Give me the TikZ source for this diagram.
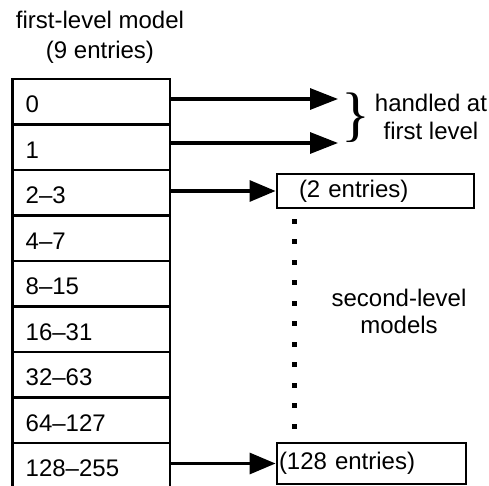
\documentclass[tikz,border=0pt]{standalone}
\usepackage{fontspec}
\setmainfont{Liberation Sans}
\newfontfamily\bracefont{Liberation Serif}
\usetikzlibrary{arrows.meta}
\begin{document}
\begin{tikzpicture}[x=1pt,y=-1pt,
  every node/.style={font=\fontsize{24}{29}\selectfont},
  cell/.style={draw, line width=2.9pt, minimum width=157.3pt, minimum height=45.5pt,
    inner xsep=13pt, inner ysep=0pt, text width=131.3pt, align=left,
    text height=22pt, text depth=0pt},
  box/.style={draw, line width=2.9pt, inner ysep=0pt, align=left},
  label/.style={align=center, inner sep=0pt},
  longarrow/.style={line width=3.2pt, -{Triangle[length=28pt,width=21pt]}},
  shortarrow/.style={line width=3.2pt, -{Triangle[length=26pt,width=21pt]}}]
  \useasboundingbox (0,0) rectangle (489,486);
  \fill[white] (0,0) rectangle (489,486);
  \clip (0,0) rectangle (489,486);

  % first-level table
  \node[label, font=\fontsize{24}{30}\selectfont] (title) at (100,36.8)
    {first-level model\\(9 entries)};
  \foreach \t [count=\i from 0] in {0,1,2–3,4–7,8–15,16–31,32–63,64–127,128–255}
    \node[cell] (c\i) at (91.35,101.75+45.5*\i) {\t};

  % entries resolved directly
  \coordinate (t0) at (338,99);
  \coordinate (t1) at (338,143);
  \draw[longarrow] (c0.east |- t0) -- (t0);
  \draw[longarrow] (c1.east |- t1) -- (t1);
  \node[inner sep=0pt, font=\bracefont\fontsize{60}{60}\selectfont] (brace) at (356,118) {\}};
  \node[label, font=\fontsize{24}{28}\selectfont] (handled) at (431,117.3)
    {handled at\\first level};

  % second-level models
  \node[box, minimum width=197pt, minimum height=34pt, inner xsep=22pt, text width=153pt]
    (b2) at (375.5,191) {(2 entries)};
  \node[box, minimum width=189pt, minimum height=41pt, inner xsep=2pt, text width=185pt]
    (b8) at (371.5,463.5) {(128 entries)};
  \draw[shortarrow] (b2.west -| c2.east) -- (b2.west);
  \draw[shortarrow] (b8.west -| c8.east) -- (b8.west);
  \foreach \k in {0,...,10}
    \fill (292,218.5+20.5*\k) rectangle ++(5,5);
  \node[label, font=\fontsize{24}{27}\selectfont] (second) at (399,311.3)
    {second-level\\models};
\end{tikzpicture}
\end{document}
